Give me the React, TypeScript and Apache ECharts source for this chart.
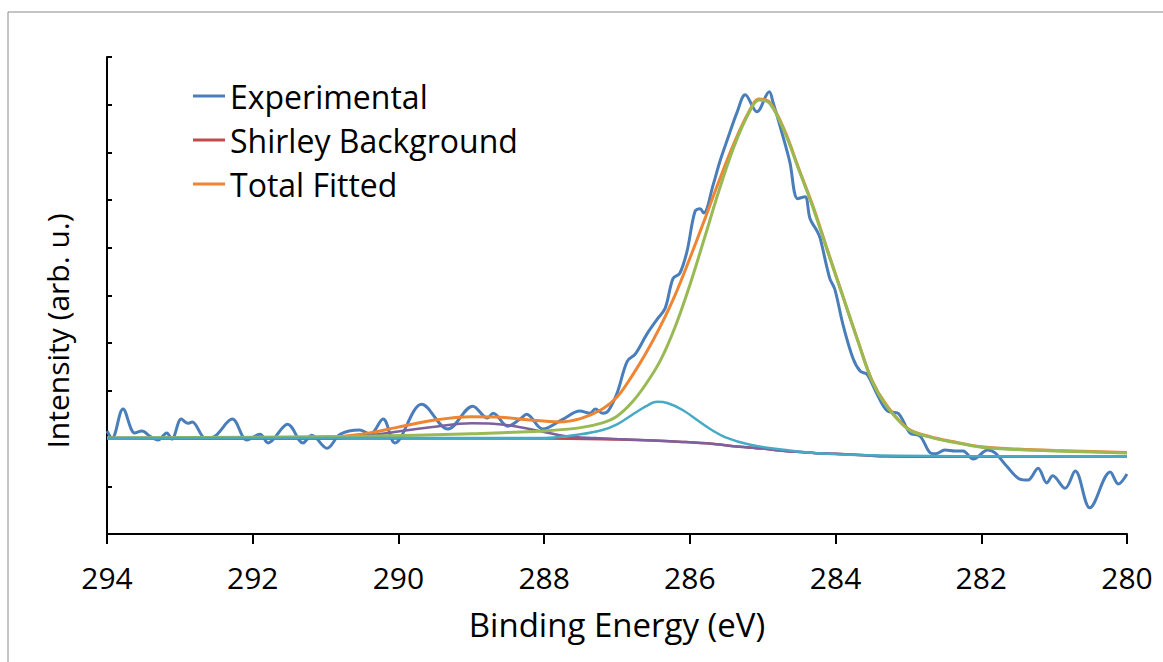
import React, { useEffect, useRef } from "react";
import * as echarts from "echarts";

// Binding energy (eV) / intensity (arb. u.)
const expE = [294.0, 293.93, 293.78, 293.62, 293.52, 293.41, 293.3, 293.18, 293.11, 292.98, 292.89, 292.83, 292.65, 292.54, 292.28, 292.08, 291.9, 291.79, 291.52, 291.31, 291.19, 290.98, 290.8, 290.53, 290.39, 290.21, 290.05, 289.68, 289.32, 288.98, 288.78, 288.7, 288.5, 288.33, 288.24, 288.02, 287.74, 287.51, 287.37, 287.3, 287.19, 287.12, 287.0, 286.86, 286.75, 286.59, 286.45, 286.34, 286.23, 286.14, 286.04, 285.93, 285.86, 285.81, 285.68, 285.59, 285.48, 285.35, 285.24, 285.08, 284.91, 284.86, 284.74, 284.63, 284.52, 284.42, 284.35, 284.25, 284.21, 284.08, 284.01, 283.9, 283.76, 283.66, 283.57, 283.43, 283.29, 283.14, 282.98, 282.84, 282.7, 282.63, 282.5, 282.36, 282.25, 282.11, 281.91, 281.81, 281.65, 281.47, 281.36, 281.22, 281.1, 281.02, 280.85, 280.71, 280.51, 280.23, 280.12, 280.0];
const expV = [0.16, 0.01, 0.62, 0.12, 0.16, 0.05, -0.03, 0.12, -0.01, 0.41, 0.32, 0.35, 0.01, 0.03, 0.41, -0.03, 0.09, -0.09, 0.3, -0.09, 0.07, -0.2, 0.09, 0.18, 0.09, 0.41, -0.09, 0.72, 0.2, 0.68, 0.43, 0.53, 0.26, 0.41, 0.51, 0.2, 0.41, 0.58, 0.53, 0.62, 0.53, 0.58, 0.95, 1.62, 1.77, 2.19, 2.5, 2.73, 3.36, 3.46, 3.92, 4.76, 4.82, 4.73, 5.32, 5.8, 6.29, 6.85, 7.21, 6.85, 7.27, 7.06, 6.43, 5.81, 5.03, 5.07, 4.61, 4.34, 4.19, 3.36, 3.13, 2.4, 1.68, 1.41, 1.35, 0.93, 0.58, 0.53, 0.12, 0.05, -0.3, -0.32, -0.24, -0.26, -0.26, -0.43, -0.24, -0.3, -0.58, -0.85, -0.87, -0.62, -0.93, -0.78, -1.04, -0.68, -1.45, -0.7, -0.95, -0.74];

const shirleyE = [294, 288, 287, 286.5, 286.1, 285.7, 285.4, 285.0, 284.7, 284.3, 284, 283.6, 283.3, 282.5, 282, 280];
const shirleyV = [0, 0, -0.02, -0.04, -0.07, -0.11, -0.16, -0.21, -0.26, -0.3, -0.32, -0.35, -0.37, -0.38, -0.38, -0.38];

const totalE = [294, 291, 290.5, 290, 289.5, 289, 288.6, 288.2, 287.8, 287.5, 287.2, 287.0, 286.8, 286.6, 286.4, 286.2, 286.0, 285.8, 285.6, 285.4, 285.2, 285.05, 284.9, 284.7, 284.5, 284.3, 284.1, 283.9, 283.7, 283.5, 283.3, 283.0, 282.7, 282.4, 282.0, 281.5, 281.0, 280.0];
const totalV = [0.01, 0.03, 0.09, 0.24, 0.39, 0.46, 0.45, 0.39, 0.35, 0.42, 0.62, 0.87, 1.3, 1.8, 2.37, 3.02, 3.78, 4.58, 5.4, 6.17, 6.82, 7.12, 7.04, 6.46, 5.64, 4.83, 3.9, 2.99, 2.08, 1.22, 0.7, 0.2, 0.04, -0.06, -0.17, -0.22, -0.25, -0.29];

const c1E = [294, 291, 290.5, 290, 289.5, 289, 288.7, 288.4, 288.0, 287.7, 287.3, 287.0, 286.5, 286.1, 285.7, 285.4, 285.0, 284.7, 284.3, 284, 283.6, 283.3, 282.5, 282, 280];
const c1V = [0, 0, 0.05, 0.15, 0.25, 0.32, 0.31, 0.26, 0.14, 0.05, 0.01, -0.01, -0.04, -0.07, -0.11, -0.16, -0.21, -0.26, -0.3, -0.32, -0.35, -0.37, -0.38, -0.38, -0.38];

const c2E = [294, 288, 287.5, 287.2, 287.0, 286.8, 286.6, 286.45, 286.3, 286.1, 285.9, 285.7, 285.5, 285.2, 284.8, 284.3, 283.5, 282, 280];
const c2V = [0.01, 0.01, 0.09, 0.18, 0.3, 0.49, 0.68, 0.77, 0.74, 0.6, 0.39, 0.18, 0.02, -0.12, -0.22, -0.3, -0.35, -0.37, -0.38];

const c3E = [294, 292, 290.5, 289, 288.5, 288, 287.5, 287.2, 287.0, 286.8, 286.6, 286.4, 286.2, 286.0, 285.8, 285.6, 285.4, 285.2, 285.05, 284.9, 284.7, 284.5, 284.3, 284.1, 283.9, 283.7, 283.5, 283.3, 283.0, 282.7, 282.4, 282.0, 281.5, 281.0, 280.0];
const c3V = [0.01, 0.03, 0.05, 0.1, 0.13, 0.16, 0.23, 0.33, 0.47, 0.75, 1.15, 1.65, 2.35, 3.22, 4.2, 5.2, 6.1, 6.8, 7.1, 7.02, 6.43, 5.62, 4.8, 3.88, 2.98, 2.07, 1.21, 0.68, 0.19, 0.03, -0.07, -0.18, -0.23, -0.26, -0.3];

const xTicks = { min: 280, max: 294, interval: 2 };
const yTicks = { min: -2, max: 8, interval: 1 };

const zip = (a: number[], b: number[]) => a.map((x, i) => [x, b[i]]);

const FONT = "Open Sans";

export default function App() {
  const ref = useRef<HTMLDivElement>(null);
  useEffect(() => {
    if (!ref.current) return;
    const chart = echarts.init(ref.current, undefined, { renderer: "svg" });
    const line = (name: string, data: number[][], color: string, width: number, z: number) => ({
      name,
      type: "line",
      data,
      smooth: 0.35,
      symbol: "none",
      z,
      lineStyle: { color, width },
      itemStyle: { color },
    });
    chart.setOption({
      animation: false,
      backgroundColor: "#fff",
      graphic: [
        {
          type: "rect",
          shape: { x: 8, y: 12, width: 1300, height: 800 },
          style: { fill: "none", stroke: "#8a8a8a", lineWidth: 1 },
          silent: true,
          z: -1,
        },
        {
          type: "text",
          x: 57,
          y: 331,
          rotation: Math.PI / 2,
          style: {
            text: "Intensity (arb. u.)",
            fontFamily: FONT,
            fontSize: 30,
            fill: "#000",
            align: "center",
            verticalAlign: "middle",
          },
          silent: true,
        },
      ],
      grid: { left: 107, right: 36, top: 57, bottom: 128 },
      legend: {
        data: ["Experimental", "Shirley Background", "Total Fitted"],
        orient: "vertical",
        left: 193,
        top: 80,
        padding: 0,
        itemWidth: 32,
        itemHeight: 3,
        itemGap: 12,
        icon: "rect",
        selectedMode: false,
        textStyle: { fontFamily: FONT, fontSize: 32, color: "#000" },
      },
      xAxis: {
        type: "value",
        inverse: true,
        min: xTicks.min,
        max: xTicks.max,
        interval: xTicks.interval,
        name: "Binding Energy (eV)",
        nameLocation: "middle",
        nameGap: 74,
        nameTextStyle: { fontFamily: FONT, fontSize: 33, color: "#000" },
        axisLine: { lineStyle: { color: "#000", width: 2 }, onZero: false },
        axisTick: { show: true, inside: false, length: 10, lineStyle: { color: "#000", width: 2 } },
        axisLabel: { fontFamily: FONT, fontSize: 30, color: "#000", margin: 28 },
        splitLine: { show: false },
      },
      yAxis: {
        type: "value",
        min: yTicks.min,
        max: yTicks.max,
        interval: yTicks.interval,
        axisLine: { show: true, lineStyle: { color: "#000", width: 2 }, onZero: false },
        axisTick: { show: true, inside: true, length: 5, lineStyle: { color: "#000", width: 2 } },
        axisLabel: { show: false },
        splitLine: { show: false },
      },
      series: [
        line("Experimental", zip(expE, expV), "#4A7EBB", 3, 2),
        line("Shirley Background", zip(shirleyE, shirleyV), "#BE4B48", 2.5, 3),
        line("Total Fitted", zip(totalE, totalV), "#EE8533", 3, 4),
        line("C3", zip(c1E, c1V), "#7D60A0", 2.5, 5),
        line("C1", zip(c3E, c3V), "#98B954", 3, 6),
        line("C2", zip(c2E, c2V), "#46AAC5", 2.5, 7),
      ],
    });
    return () => chart.dispose();
  }, []);
  return <div ref={ref} style={{ width: 1163, height: 662, position: "absolute", left: 0, top: 0 }} />;
}
